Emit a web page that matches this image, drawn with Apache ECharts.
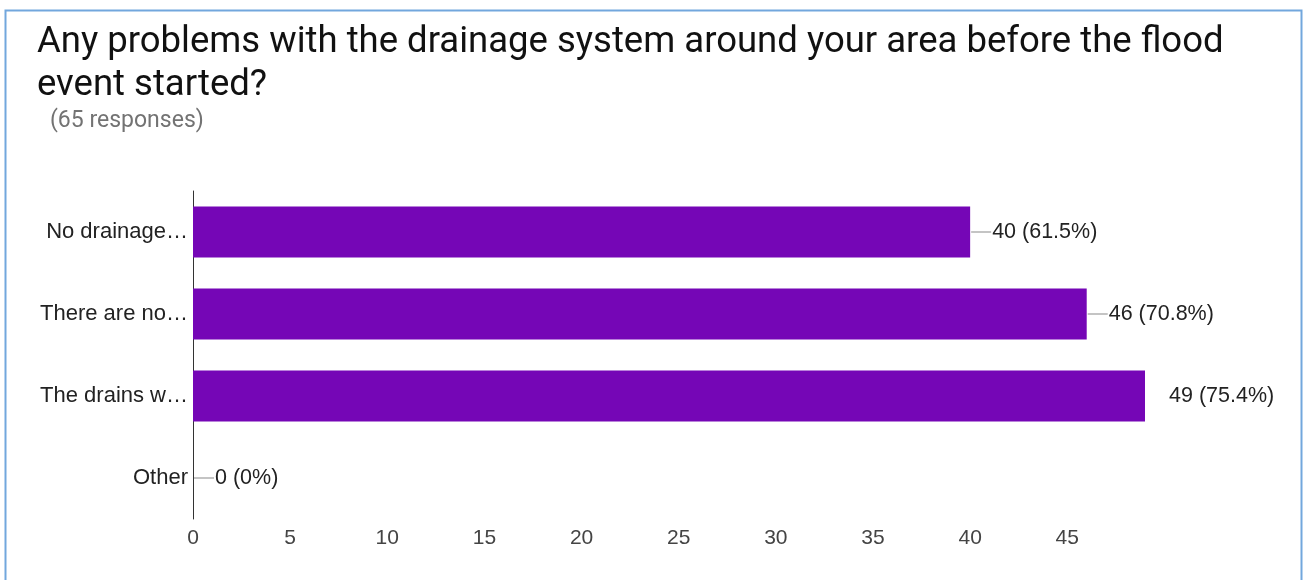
<!DOCTYPE html>
<html><head><meta charset="utf-8">
<script src="https://cdn.jsdelivr.net/npm/echarts@6/dist/echarts.min.js"></script>
<style>html,body{margin:0;padding:0;background:#fff}#c{width:1308px;height:580px}</style>
</head><body><div id="c"></div>
<script>
const categories = ["No drainage…", "There are no…", "The drains w…", "Other"];
const counts = [40, 46, 49, 0];
const percentLabels = ["61.5%", "70.8%", "75.4%", "0%"];
const xTicks = [0, 5, 10, 15, 20, 25, 30, 35, 40, 45];
const titleText = "Any problems with the drainage system around your area before the flood\nevent started?";
const subtitleText = "(65 responses)";

const chart = echarts.init(document.getElementById('c'), null, {renderer: 'canvas'});
const data = counts.map((v, i) => {
  const withLine = i !== 2;
  return {
    value: v,
    label: {
      formatter: (withLine ? '{l| }' : '{g| }') + '{t|' + v + ' (' + percentLabels[i] + ')}'
    }
  };
});
chart.setOption({
  animation: false,
  title: [{
    text: titleText,
    left: 32, top: 16,
    textStyle: {fontFamily: 'Roboto', fontSize: 36.5, fontWeight: 'normal', color: '#111', lineHeight: 43.5}
  }, {
    text: subtitleText,
    left: 45, top: 105,
    textStyle: {fontFamily: 'Roboto', fontSize: 23, fontWeight: 'normal', color: '#737373'}
  }],
  graphic: [{
    type: 'rect', shape: {x: 5.5, y: 10.5, width: 1296, height: 600},
    style: {fill: 'none', stroke: '#72a7dd', lineWidth: 2}, silent: true
  }],
  grid: {left: 193, right: 163, top: 191, bottom: 61, containLabel: false},
  xAxis: {
    type: 'value', min: 0, max: 49, interval: 5,
    axisLine: {show: false}, axisTick: {show: false}, splitLine: {show: false},
    axisLabel: {color: '#444', fontSize: 21, fontFamily: 'Liberation Sans', margin: 9, showMaxLabel: false,
      formatter: v => xTicks.includes(v) ? String(v) : ''}
  },
  yAxis: {
    type: 'category', data: categories, inverse: true,
    axisLine: {show: true, lineStyle: {color: '#333', width: 1}},
    axisTick: {show: false},
    axisLabel: {color: '#222', fontSize: 22, fontFamily: 'Liberation Sans', margin: 5}
  },
  series: [{
    type: 'bar', data: data, barWidth: 51,
    itemStyle: {color: '#7506b6'},
    label: {
      show: true, position: 'right', distance: 1,
      rich: {
        l: {width: 20, height: 1, backgroundColor: '#888', padding: 0},
        g: {width: 22, height: 1},
        t: {fontSize: 21.5, fontFamily: 'Liberation Sans', color: '#222', padding: [0, 0, 0, 1]}
      }
    }
  }]
});
</script></body></html>
